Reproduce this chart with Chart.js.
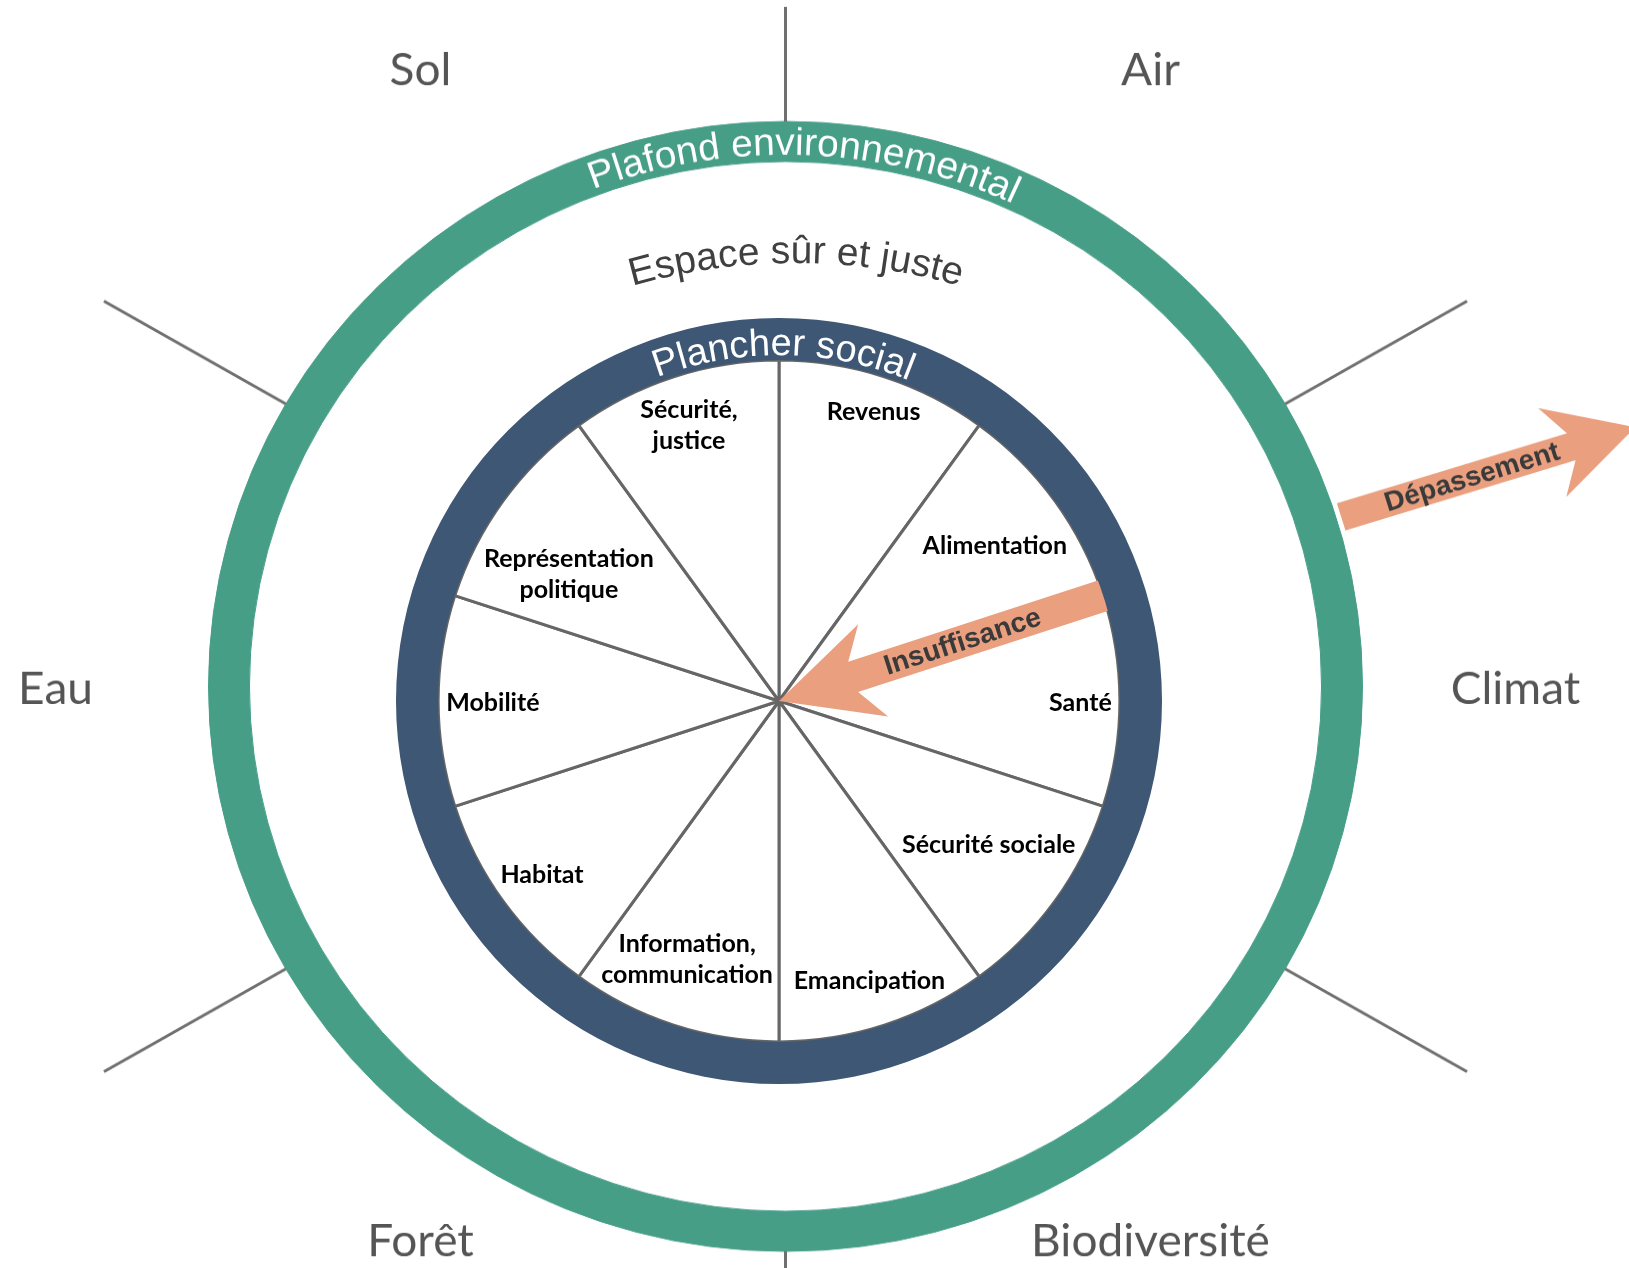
<!DOCTYPE html>
<html lang="fr">
<head>
<meta charset="utf-8">
<title>Plafond environnemental / Plancher social</title>
<script src="https://cdn.jsdelivr.net/npm/chart.js@4.4.1/dist/chart.umd.min.js"></script>
<style>
  html, body { margin: 0; padding: 0; background: #fff; overflow: hidden; }
  #wrap { position: relative; width: 1629px; height: 1268px; }
  #wrap canvas { position: absolute; left: 0; top: 0; }
</style>
</head>
<body>
<div id="wrap">
  <!-- l'anneau vert est un peu aplati dans l'original : canvas plus haut, affiché en 1268 -->
  <canvas id="planet" width="1629" height="1295" style="width:1629px;height:1268px"></canvas>
  <canvas id="social" width="1629" height="1268" style="width:1629px;height:1268px"></canvas>
</div>
<script>
// limites planétaires (anneau extérieur), sens horaire depuis le haut
const planetLabels = ['Air', 'Climat', 'Biodiversité', 'Forêt', 'Eau', 'Sol'];
const planetValues = [1, 1, 1, 1, 1, 1];

// besoins sociaux (disque intérieur), sens horaire depuis le haut
const socialLabels = ['Revenus', 'Alimentation', 'Santé', 'Sécurité sociale', 'Emancipation',
    'Information,\ncommunication', 'Habitat', 'Mobilité', 'Représentation\npolitique', 'Sécurité,\njustice'];
const socialValues = [1, 1, 1, 1, 1, 1, 1, 1, 1, 1];

const ringTitles = ['Plafond environnemental', 'Espace sûr et juste', 'Plancher social'];
const arrowTexts = ['Dépassement', 'Insuffisance'];

const GREEN = '#469E87';
const NAVY = '#3E5775';
const SALMON = '#EA9F7F';
const SPOKE = '#666';
const DEG = Math.PI / 180;

// texte courbé le long d'un cercle, angle 0 = haut, sens horaire
function arcText(ctx, text, cx, cy, r, center, font, color) {
    ctx.save();
    ctx.font = font;
    ctx.fillStyle = color;
    ctx.textAlign = 'center';
    ctx.textBaseline = 'alphabetic';
    const chars = [...text];
    const widths = chars.map(ch => ctx.measureText(ch).width);
    const total = widths.reduce((s, w) => s + w, 0);
    let a = center - total / 2 / r;
    chars.forEach((ch, i) => {
        const mid = a + widths[i] / 2 / r;
        ctx.save();
        ctx.translate(cx + r * Math.sin(mid), cy - r * Math.cos(mid));
        ctx.rotate(mid);
        ctx.fillText(ch, 0, 0);
        ctx.restore();
        a += widths[i] / r;
    });
    ctx.restore();
}

// flèche pleine avec texte sur la hampe
function arrow(ctx, x0, y0, x1, y1, shaft, headW, headL, notchL, label, textAt) {
    const ang = Math.atan2(y1 - y0, x1 - x0);
    const len = Math.hypot(x1 - x0, y1 - y0);
    ctx.save();
    ctx.translate(x0, y0);
    ctx.rotate(ang);
    ctx.beginPath();
    ctx.moveTo(0, -shaft / 2);
    ctx.lineTo(len - notchL, -shaft / 2);
    ctx.lineTo(len - headL, -headW / 2);
    ctx.lineTo(len, 0);
    ctx.lineTo(len - headL, headW / 2);
    ctx.lineTo(len - notchL, shaft / 2);
    ctx.lineTo(0, shaft / 2);
    ctx.closePath();
    ctx.fillStyle = SALMON;
    ctx.fill();
    ctx.translate(textAt, 0);
    if (Math.cos(ang) < 0) ctx.rotate(Math.PI);
    ctx.font = 'bold 28px "Liberation Sans"';
    ctx.fillStyle = '#3a3a3a';
    ctx.textAlign = 'center';
    ctx.textBaseline = 'middle';
    ctx.fillText(label, 0, 1);
    ctx.restore();
}

// coins des boîtes de chaque ligne d'un libellé placé en (px, py)
function corners(px, py, boxes) {
    const pts = [];
    boxes.forEach(b => {
        for (const [sx, sy] of [[-1, -1], [1, -1], [1, 1], [-1, 1]]) {
            pts.push([px + sx * b.hw, py + b.dy + sy * b.hh]);
        }
    });
    return pts;
}

// rayon max le long de l'angle a pour que le libellé tienne dans le disque
function fitRadius(a, boxes, limit) {
    let lo = 0, hi = limit;
    for (let k = 0; k < 30; k++) {
        const r = (lo + hi) / 2;
        const pts = corners(r * Math.cos(a), r * Math.sin(a), boxes);
        if (pts.some(p => Math.hypot(p[0], p[1]) > limit)) hi = r; else lo = r;
    }
    return lo;
}

// plus petite distance des coins aux deux rayons de la part
function wedgeClearance(pts, s1, s2) {
    const c1 = Math.cos(s1), n1 = Math.sin(s1), c2 = Math.cos(s2), n2 = Math.sin(s2);
    return Math.min(...pts.map(([x, y]) => Math.min(c1 * y - n1 * x, x * n2 - y * c2)));
}

const planetDecor = {
    id: 'planetDecor',
    afterDraw(chart) {
        const ctx = chart.ctx;
        const arcs = chart.getDatasetMeta(0).data;
        const { x: cx, y: cy, outerRadius: R } = arcs[0];

        // rayons gris à l'extérieur de l'anneau
        ctx.save();
        ctx.beginPath();
        ctx.rect(0, 7, chart.width, chart.height);
        ctx.clip();
        ctx.strokeStyle = '#707070';
        ctx.lineWidth = 3;
        arcs.forEach(arc => {
            const a = arc.startAngle;
            ctx.beginPath();
            ctx.moveTo(cx + R * Math.cos(a), cy + R * Math.sin(a));
            ctx.lineTo(cx + (R + 210) * Math.cos(a), cy + (R + 210) * Math.sin(a));
            ctx.stroke();
        });
        ctx.restore();

        // noms des limites
        ctx.save();
        ctx.font = '46px Lato';
        ctx.fillStyle = '#555';
        ctx.textAlign = 'center';
        ctx.textBaseline = 'middle';
        arcs.forEach((arc, i) => {
            const a = (arc.startAngle + arc.endAngle) / 2;
            const x = cx + (R + 153) * Math.cos(a);
            const y = Math.min(cy + (R + 153) * Math.sin(a), chart.height - 30);
            ctx.fillText(planetLabels[i], x, y + 3);
        });
        ctx.restore();

        arcText(ctx, ringTitles[0], cx, cy, R - 34, 2.0 * DEG, '39px "Liberation Sans"', '#fff');

        const a = 72.7 * DEG;
        arrow(ctx, cx + (R + 5) * Math.sin(a), cy - (R + 5) * Math.cos(a),
            cx + (R + 313) * Math.sin(a), cy - (R + 313) * Math.cos(a),
            29, 95, 87, 67, arrowTexts[0], 137);
    }
};

const socialDecor = {
    id: 'socialDecor',
    afterDraw(chart) {
        const ctx = chart.ctx;
        const ring = chart.getDatasetMeta(0).data[0];
        const slices = chart.getDatasetMeta(1).data;
        const { x: cx, y: cy } = ring;
        const Rin = ring.innerRadius;

        // libellés des besoins : près du bord, sans toucher les rayons
        ctx.save();
        ctx.font = 'bold 25px Lato';
        ctx.fillStyle = '#000';
        ctx.textAlign = 'center';
        ctx.textBaseline = 'middle';
        const lh = 31;
        slices.forEach((arc, i) => {
            const mid = (arc.startAngle + arc.endAngle) / 2;
            const lines = socialLabels[i].split('\n');
            const boxes = lines.map((l, k) => ({
                hw: ctx.measureText(l).width / 2,
                hh: 10,
                dy: (k - (lines.length - 1) / 2) * lh
            }));
            let pos = null, best = null, bestClear = -Infinity;
            for (let step = 0; step <= 60 && !pos; step++) {
                for (const sgn of [1, -1]) {
                    const a = mid + sgn * step * 0.25 * DEG;
                    const r = fitRadius(a, boxes, Rin - 8);
                    const p = [r * Math.cos(a), r * Math.sin(a)];
                    const clear = wedgeClearance(corners(p[0], p[1], boxes), arc.startAngle, arc.endAngle);
                    if (clear >= 10) { pos = p; break; }
                    if (clear > bestClear) { bestClear = clear; best = p; }
                }
            }
            pos = pos || best;
            lines.forEach((l, k) => ctx.fillText(l, cx + pos[0], cy + pos[1] + 2 + boxes[k].dy));
        });
        ctx.restore();

        // flèche d'insuffisance, coupée par l'anneau bleu
        ctx.save();
        ctx.beginPath();
        ctx.arc(cx, cy, Rin, 0, Math.PI * 2);
        ctx.clip();
        const a = 72 * DEG;
        arrow(ctx, cx + (Rin + 2) * Math.sin(a), cy - (Rin + 2) * Math.cos(a), cx, cy,
            32, 97, 99, 78, arrowTexts[1], 150);
        ctx.restore();

        arcText(ctx, ringTitles[2], cx, cy, Rin + 5, 0.7 * DEG, '38px "Liberation Sans"', '#fff');
        arcText(ctx, ringTitles[1], cx + 17, 263 + 600, 600, 0, '39px "Liberation Sans"', '#404040');
    }
};

const common = {
    responsive: false,
    animation: false,
    events: [],
    plugins: { legend: { display: false }, tooltip: { enabled: false } }
};

function draw() {
    new Chart(document.getElementById('planet'), {
        type: 'doughnut',
        data: {
            labels: planetLabels,
            datasets: [{ data: planetValues, backgroundColor: GREEN, borderColor: GREEN, borderWidth: 1, hoverOffset: 0 }]
        },
        options: Object.assign({}, common, {
            cutout: '92.9%',
            layout: { padding: { left: 208, right: 266, top: 123, bottom: 16 } }
        }),
        plugins: [planetDecor]
    });

    new Chart(document.getElementById('social'), {
        type: 'doughnut',
        data: {
            labels: socialLabels,
            datasets: [
                { data: [1], backgroundColor: NAVY, borderWidth: 0, hoverOffset: 0, weight: 42 },
                { data: socialValues, backgroundColor: '#fff', borderColor: SPOKE, borderWidth: 3, hoverOffset: 0, weight: 340 }
            ]
        },
        options: Object.assign({}, common, {
            cutout: 0,
            layout: { padding: { left: 396, right: 467, top: 318, bottom: 184 } }
        }),
        plugins: [socialDecor]
    });
}

Promise.all([
    document.fonts.load('46px Lato'),
    document.fonts.load('bold 25px Lato'),
    document.fonts.load('39px "Liberation Sans"'),
    document.fonts.load('bold 28px "Liberation Sans"')
]).then(draw, draw);
</script>
</body>
</html>
